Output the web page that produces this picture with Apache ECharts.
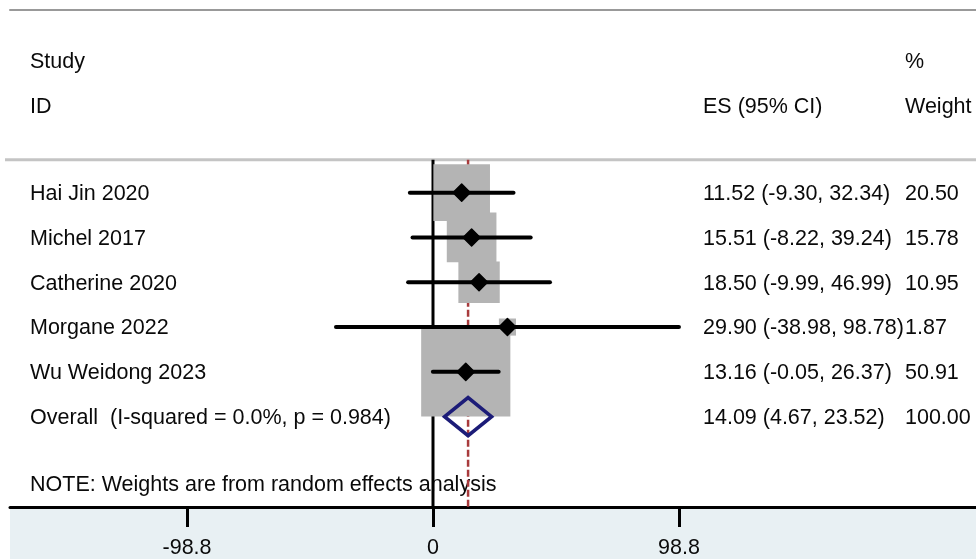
<!DOCTYPE html>
<html>
<head>
<meta charset="utf-8">
<script src="https://cdn.jsdelivr.net/npm/echarts@6/dist/echarts.min.js"></script>
<style>
  html, body { margin: 0; padding: 0; background: #fff; }
  #chart { width: 976px; height: 559px; }
</style>
</head>
<body>
<div id="chart"></div>
<script>
// Forest plot: per-study effect sizes with 95% CI and random-effects weights
const studies = ['Hai Jin 2020', 'Michel 2017', 'Catherine 2020', 'Morgane 2022', 'Wu Weidong 2023'];
const effect  = [11.52, 15.51, 18.50, 29.90, 13.16];
const ciLow   = [-9.30, -8.22, -9.99, -38.98, -0.05];
const ciHigh  = [32.34, 39.24, 46.99, 98.78, 26.37];
const weights = [20.50, 15.78, 10.95, 1.87, 50.91];

const overallLabel = 'Overall  (I-squared = 0.0%, p = 0.984)';
const overallEffect = 14.09;
const overallLow = 4.67;
const overallHigh = 23.52;
const overallWeight = 100.00;

const noteText = 'NOTE: Weights are from random effects analysis';
const tickValues = [-98.8, 0, 98.8];

// ---- layout ----
const FONT = '"Liberation Sans", Arial, sans-serif';
const FS = 21.5;
const TXT = '#0a0a0a';
const X_MIN = -169.9, X_MAX = 218.1;     // effect-size scale across the grid
const Y_MIN = -4.076, Y_MAX = 7.016;     // row scale (row 0 = first study)
const HEADER1_ROW = -2.94, HEADER2_ROW = -1.94, RULE_ROW = -0.735;
const OVERALL_ROW = studies.length;
const NOTE_ROW = 6.5;
const COL_STUDY = 30, COL_ES = 703, COL_WT = 905;
const TEXT_DY = 1.5;
const BOX_SCALE = 12.5;

const fmt = v => v.toFixed(2);

const chart = echarts.init(document.getElementById('chart'));

const textRows = [];
textRows.push({ row: HEADER1_ROW, study: 'Study', es: '', wt: '%' });
textRows.push({ row: HEADER2_ROW, study: 'ID', es: 'ES (95% CI)', wt: 'Weight' });
studies.forEach((s, i) => textRows.push({
  row: i, study: s,
  es: fmt(effect[i]) + ' (' + fmt(ciLow[i]) + ', ' + fmt(ciHigh[i]) + ')',
  wt: fmt(weights[i])
}));
textRows.push({
  row: OVERALL_ROW, study: overallLabel,
  es: fmt(overallEffect) + ' (' + fmt(overallLow) + ', ' + fmt(overallHigh) + ')',
  wt: fmt(overallWeight)
});
textRows.push({ row: NOTE_ROW, study: noteText, es: '', wt: '' });

function txt(x, y, s) {
  return { type: 'text', style: { x: x, y: y + TEXT_DY, text: s, fill: TXT, font: FS + 'px ' + FONT, textVerticalAlign: 'middle', textAlign: 'left' } };
}

const option = {
  animation: false,
  backgroundColor: '#ffffff',
  grid: { left: 10, right: 0, top: 10, bottom: 51 },
  graphic: [{
    type: 'rect', z: -10,
    shape: { x: 10, y: 508, width: 966, height: 51 },
    style: { fill: '#e8f0f3' }
  }],
  xAxis: [{
    type: 'value', min: X_MIN, max: X_MAX, position: 'bottom',
    splitLine: { show: false },
    axisLine: { show: true, onZero: false, lineStyle: { color: '#000', width: 3 } },
    axisTick: { show: true, customValues: tickValues, length: 20, lineStyle: { color: '#000', width: 3 } },
    axisLabel: { show: true, customValues: tickValues, formatter: v => String(v), margin: 30, fontSize: FS, color: TXT, fontFamily: FONT }
  }, {
    type: 'value', min: X_MIN, max: X_MAX, position: 'top',
    splitLine: { show: false },
    axisLine: { show: true, onZero: false, lineStyle: { color: '#999', width: 2 } },
    axisTick: { show: false }, axisLabel: { show: false }
  }],
  yAxis: { type: 'value', inverse: true, min: Y_MIN, max: Y_MAX, show: false },
  series: [
    {
      // table text
      type: 'custom', z: 1,
      data: textRows.map(r => [0, r.row]),
      renderItem: (params, api) => {
        const r = textRows[params.dataIndex];
        const y = api.coord([0, r.row])[1];
        const kids = [txt(COL_STUDY, y, r.study)];
        if (r.es) kids.push(txt(COL_ES, y, r.es));
        if (r.wt) kids.push(txt(COL_WT, y, r.wt));
        return { type: 'group', children: kids };
      }
    },
    {
      // header rule, null line and overall-effect line
      type: 'custom', z: 2,
      data: [[overallEffect]],
      renderItem: (params, api) => {
        const a = api.coord([X_MIN, RULE_ROW]);
        const b = api.coord([X_MAX, RULE_ROW]);
        const z0 = api.coord([0, RULE_ROW]);
        const z1 = api.coord([0, Y_MAX]);
        const o0 = api.coord([api.value(0), RULE_ROW]);
        const o1 = api.coord([api.value(0), Y_MAX]);
        return { type: 'group', children: [
          { type: 'line', shape: { x1: a[0] - 5, y1: a[1], x2: b[0], y2: b[1] }, style: { stroke: '#c4c4c4', lineWidth: 3 } },
          { type: 'line', shape: { x1: z0[0], y1: z0[1], x2: z1[0], y2: z1[1] }, style: { stroke: '#000', lineWidth: 3 } },
          { type: 'line', shape: { x1: o0[0], y1: o0[1], x2: o1[0], y2: o1[1] }, style: { stroke: '#a83a3c', lineWidth: 2.5, lineDash: [7, 3] } }
        ] };
      }
    },
    {
      // weight boxes
      type: 'custom', z: 3,
      data: studies.map((s, i) => [effect[i], i, weights[i]]),
      renderItem: (params, api) => {
        const c = api.coord([api.value(0), api.value(1)]);
        const side = Math.sqrt(api.value(2)) * BOX_SCALE;
        return { type: 'rect', shape: { x: c[0] - side / 2, y: c[1] - side / 2, width: side, height: side }, style: { fill: '#b4b4b4' } };
      }
    },
    {
      // confidence intervals with point estimates
      type: 'custom', z: 4,
      data: studies.map((s, i) => [ciLow[i], ciHigh[i], i, effect[i]]),
      renderItem: (params, api) => {
        const l = api.coord([api.value(0), api.value(2)]);
        const h = api.coord([api.value(1), api.value(2)]);
        const p = api.coord([api.value(3), api.value(2)]);
        const d = 8.5;
        return { type: 'group', children: [
          { type: 'line', shape: { x1: l[0], y1: l[1], x2: h[0], y2: h[1] }, style: { stroke: '#000', lineWidth: 4, lineCap: 'round' } },
          { type: 'polygon', shape: { points: [[p[0] - d, p[1]], [p[0], p[1] - d], [p[0] + d, p[1]], [p[0], p[1] + d]] }, style: { fill: '#000', stroke: '#000', lineWidth: 1.5, lineJoin: 'round' } }
        ] };
      }
    },
    {
      // pooled estimate diamond
      type: 'custom', z: 5,
      data: [[overallLow, overallEffect, overallHigh, OVERALL_ROW]],
      renderItem: (params, api) => {
        const l = api.coord([api.value(0), api.value(3)]);
        const m = api.coord([api.value(1), api.value(3)]);
        const h = api.coord([api.value(2), api.value(3)]);
        const hh = 19;
        return { type: 'polygon', shape: { points: [[l[0], l[1]], [m[0], m[1] - hh], [h[0], h[1]], [m[0], m[1] + hh]] }, style: { fill: 'none', stroke: '#1c1c78', lineWidth: 3.6, lineJoin: 'miter' } };
      }
    }
  ]
};

chart.setOption(option);
</script>
</body>
</html>
